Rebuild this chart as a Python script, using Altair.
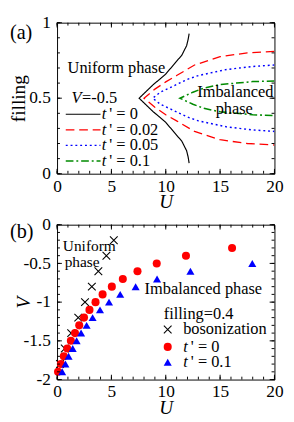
import altair as alt
import pandas as pd

FONT = "Liberation Serif"

# ---------------- Panel (a): phase boundaries, V = -0.5 ----------------
series_a = ["t0", "t002", "t005", "t01"]
colors_a = ["#000000", "#ff0000", "#0000ff", "#008a00"]
dashes_a = [[1, 0], [9, 5], [2, 3], [8, 3, 2, 3]]
labels_a = ["' = 0", "' = 0.02", "' = 0.05", "' = 0.1"]
legend_f = [0.394, 0.29, 0.1875, 0.084]

# each boundary listed from the nose outward: U, upper filling, lower filling
U_t0 = [7.55, 8.82, 9.4, 10.0, 10.74, 11.48, 11.92, 12.06, 12.15]
fu_t0 = [0.5, 0.588, 0.623, 0.66, 0.723, 0.785, 0.848, 0.89, 0.927]
fl_t0 = [0.5, 0.412, 0.377, 0.34, 0.277, 0.215, 0.152, 0.11, 0.07]

U_t002 = [8.0, 9.0, 10.0, 11.0, 12.65, 15.0, 17.5, 20.0]
fu_t002 = [0.5, 0.56, 0.608, 0.65, 0.72, 0.775, 0.80, 0.81]
fl_t002 = [0.5, 0.44, 0.39, 0.35, 0.28, 0.225, 0.20, 0.19]

U_t005 = [8.8, 9.5, 10.6, 12.0, 13.0, 15.6, 18.0, 20.0]
fu_t005 = [0.5, 0.54, 0.577, 0.625, 0.65, 0.69, 0.71, 0.72]
fl_t005 = [0.5, 0.46, 0.423, 0.375, 0.35, 0.31, 0.29, 0.28]

U_t01 = [11.3, 12.5, 13.5, 15.0, 16.5, 18.0, 20.0]
fu_t01 = [0.5, 0.54, 0.567, 0.59, 0.60, 0.61, 0.614]
fl_t01 = [0.5, 0.46, 0.433, 0.41, 0.40, 0.39, 0.385]

# ---------------- Panel (b): critical V at filling = 0.4 ----------------
U_boson = [5.22, 4.54, 3.8, 3.2, 2.57, 1.95, 1.3, 0.71, 0.27]
V_boson = [-0.2, -0.4, -0.6, -0.8, -1.0, -1.2, -1.4, -1.6, -1.8]

U_b0 = [16.1, 11.86, 9.17, 7.4, 6.05, 5.04, 4.19, 3.54, 2.98, 2.48, 2.04,
        1.65, 1.27, 0.94, 0.62, 0.35, 0.09]
V_b0 = [-0.3, -0.4, -0.5, -0.6, -0.7, -0.8, -0.9, -1.0, -1.1, -1.2, -1.3,
        -1.4, -1.5, -1.6, -1.7, -1.8, -1.9]

U_b01 = [17.96, 12.27, 9.2, 7.23, 5.81, 4.78, 3.95, 3.27, 2.72, 2.21, 1.8,
         1.44, 1.06, 0.77, 0.47]
V_b01 = [-0.5, -0.6, -0.7, -0.8, -0.9, -1.0, -1.1, -1.2, -1.3, -1.4, -1.5,
         -1.6, -1.7, -1.8, -1.9]

legend_b = ["bosonization", "' = 0", "' = 0.1"]
legend_b_V = [-1.354, -1.578, -1.776]

# tick values
x_major = [0, 5, 10, 15, 20]
x_minor = list(range(0, 21))
ya_major = [0, 0.5, 1]
ya_minor = [i / 10 for i in range(0, 11)]
yb_major = [0, -0.5, -1, -1.5, -2]
yb_minor = [-i / 10 for i in range(0, 21)]

# ---------------- sizes ----------------
W = 226
HA = 157
HB = 161
MAJ = 5
MIN = 3

xs = alt.Scale(domain=[0, 20], nice=False, zero=False)
ysa = alt.Scale(domain=[0, 1], nice=False, zero=False)
ysb = alt.Scale(domain=[-2, 0], nice=False, zero=False)

axis_common = dict(domain=False, ticks=False, grid=False, labelFont=FONT,
                   labelFontSize=18, labelColor="black", labelFlush=False,
                   labelOverlap=False, titleFont=FONT, titleFontSize=20,
                   titleFontWeight="normal", titleColor="black")


def x_axis():
    return alt.Axis(values=x_major, labelPadding=4, title="U",
                    titleFontStyle="italic", titleBaseline="middle",
                    titleAlign="center", titleX=W / 2, titleY=29,
                    **axis_common)


AXA_X = x_axis()
AXB_X = x_axis()
AXA_Y = alt.Axis(values=ya_major, labelPadding=7, title="filling",
                 titleAngle=270, titleBaseline="middle", titleAlign="center",
                 titleX=-40, titleY=HA / 2, format="~g", **axis_common)
AXB_Y = alt.Axis(values=yb_major, labelPadding=7, title="V",
                 titleFontStyle="italic", titleAngle=270, titleBaseline="middle",
                 titleAlign="center", titleX=-35, titleY=HB / 2,
                 labelExpr="replace(format(datum.value, '~g'), '\u2212', '-')",
                 **axis_common)


def ticks(vals, H, orient, length, ysc, axx, axy):
    df = pd.DataFrame({"t": vals})
    base = alt.Chart(df).mark_rule(color="black", strokeWidth=1)
    if orient == "x":
        enc = alt.X("t:Q", scale=xs, axis=axx)
        return [base.encode(x=enc, y=alt.value(H), y2=alt.value(H - length)),
                base.encode(x=enc, y=alt.value(0), y2=alt.value(length))]
    enc = alt.Y("t:Q", scale=ysc, axis=axy)
    return [base.encode(y=enc, x=alt.value(0), x2=alt.value(length)),
            base.encode(y=enc, x=alt.value(W), x2=alt.value(W - length))]


def txt(text, x, y, ys, axx, axy, size=17, style="normal", align="left", dx=0):
    return alt.Chart(pd.DataFrame({"k": [0]})).mark_text(
        text=text, font=FONT, fontSize=size, fontStyle=style, align=align,
        baseline="middle", dx=dx, color="black").encode(
        x=alt.XDatum(x, scale=xs, axis=axx), y=alt.YDatum(y, scale=ys, axis=axy))


# ---------------- build panel (a) ----------------
rows = []
curves = [(U_t0, fu_t0, fl_t0), (U_t002, fu_t002, fl_t002),
          (U_t005, fu_t005, fl_t005), (U_t01, fu_t01, fl_t01)]
for s, (U, fu, fl) in zip(series_a, curves):
    pts = list(zip(U, fu))[::-1] + list(zip(U, fl))[1:]
    for i, (u, f) in enumerate(pts):
        rows.append({"series": s, "U": u, "filling": f, "idx": i})
df_a = pd.DataFrame(rows)

color_a = alt.Color("series:N", scale=alt.Scale(domain=series_a, range=colors_a), legend=None)
dash_a = alt.StrokeDash("series:N", scale=alt.Scale(domain=series_a, range=dashes_a), legend=None)
width_a = alt.StrokeWidth("series:N", scale=alt.Scale(domain=series_a, range=[1.2, 1.6, 1.8, 1.6]), legend=None)

lines_a = alt.Chart(df_a).mark_line(clip=True).encode(
    x=alt.X("U:Q", scale=xs, axis=AXA_X),
    y=alt.Y("filling:Q", scale=ysa, axis=AXA_Y),
    color=color_a, strokeDash=dash_a, strokeWidth=width_a, order="idx:Q")

df_leg_a = pd.DataFrame({"series": series_a, "ly": legend_f, "lab": labels_a})
leg_lines = alt.Chart(df_leg_a).mark_rule().encode(
    x=alt.XDatum(0.8, scale=xs, axis=AXA_X), x2=alt.X2Datum(4.0),
    y=alt.Y("ly:Q", scale=ysa, axis=AXA_Y),
    color=color_a, strokeDash=dash_a, strokeWidth=width_a)
leg_t = alt.Chart(df_leg_a).mark_text(
    text="t", font=FONT, fontSize=17, fontStyle="italic", align="left",
    baseline="middle", color="black").encode(
    x=alt.XDatum(4.1, scale=xs, axis=AXA_X), y=alt.Y("ly:Q", scale=ysa, axis=AXA_Y))
leg_lab = alt.Chart(df_leg_a).mark_text(
    font=FONT, fontSize=17, align="left", baseline="middle", dx=8,
    color="black").encode(
    x=alt.XDatum(4.1, scale=xs, axis=AXA_X), y=alt.Y("ly:Q", scale=ysa, axis=AXA_Y),
    text="lab:N")

layers_a = [lines_a, leg_lines, leg_t, leg_lab]
layers_a += ticks(x_major, HA, "x", MAJ, ysa, AXA_X, AXA_Y)
layers_a += ticks(x_minor, HA, "x", MIN, ysa, AXA_X, AXA_Y)
layers_a += ticks(ya_major, HA, "y", MAJ, ysa, AXA_X, AXA_Y)
layers_a += ticks(ya_minor, HA, "y", MIN, ysa, AXA_X, AXA_Y)


def ta(*a, **k):
    return txt(*a[:3], ysa, AXA_X, AXA_Y, **k)


layers_a += [
    ta("(a)", 0, 0.93, size=21).encode(x=alt.value(-49)),
    ta("Uniform phase", 0.97, 0.70),
    ta("V", 1.33, 0.50, style="italic"),
    ta("=-0.5", 1.33, 0.50, dx=11),
    ta("Imbalanced", 12.9, 0.5375),
    ta("phase", 16.3, 0.43, align="center"),
]
panel_a = alt.layer(*layers_a).properties(width=W, height=HA)

# ---------------- build panel (b) ----------------
df_boson = pd.DataFrame({"U": U_boson, "V": V_boson})
df_b0 = pd.DataFrame({"U": U_b0, "V": V_b0})
df_b01 = pd.DataFrame({"U": U_b01, "V": V_b01})
CROSS = "M -1 -1 L 1 1 M -1 1 L 1 -1"

XB = alt.X("U:Q", scale=xs, axis=AXB_X)
YB = alt.Y("V:Q", scale=ysb, axis=AXB_Y)

boson = alt.Chart(df_boson).mark_point(
    shape=CROSS, filled=False, color="black", opacity=1, strokeWidth=1.1,
    size=64, clip=False).encode(x=XB, y=YB)
circ = alt.Chart(df_b0).mark_point(
    shape="circle", filled=True, color="#ff0000", opacity=1, size=70,
    clip=False).encode(x=XB, y=YB)
tri = alt.Chart(df_b01).mark_point(
    shape="triangle-up", filled=True, color="#0000ff", opacity=1, size=70,
    clip=False).encode(x=XB, y=YB)


def tb(*a, **k):
    return txt(*a[:3], ysb, AXB_X, AXB_Y, **k)


def pt(V, **style):
    return alt.Chart(pd.DataFrame({"k": [0]})).mark_point(**style).encode(
        x=alt.XDatum(10.18, scale=xs, axis=AXB_X),
        y=alt.YDatum(V, scale=ysb, axis=AXB_Y))


leg_b = [
    pt(legend_b_V[0], shape=CROSS, filled=False, color="black", opacity=1,
       strokeWidth=1.1, size=64),
    pt(legend_b_V[1], shape="circle", filled=True, color="#ff0000", opacity=1, size=70),
    pt(legend_b_V[2], shape="triangle-up", filled=True, color="#0000ff", opacity=1, size=70),
    tb(legend_b[0], 11.6, legend_b_V[0]),
    tb("t", 11.6, legend_b_V[1], style="italic"),
    tb(legend_b[1], 11.6, legend_b_V[1], dx=8),
    tb("t", 11.6, legend_b_V[2], style="italic"),
    tb(legend_b[2], 11.6, legend_b_V[2], dx=8),
]

layers_b = [boson, circ, tri]
layers_b += ticks(x_major, HB, "x", MAJ, ysb, AXB_X, AXB_Y)
layers_b += ticks(x_minor, HB, "x", MIN, ysb, AXB_X, AXB_Y)
layers_b += ticks(yb_major, HB, "y", MAJ, ysb, AXB_X, AXB_Y)
layers_b += ticks(yb_minor, HB, "y", MIN, ysb, AXB_X, AXB_Y)
layers_b += leg_b
layers_b += [
    tb("(b)", 0, -0.1, size=21).encode(x=alt.value(-49)),
    tb("Uniform", 0.53, -0.28, size=16),
    tb("phase", 0.7, -0.49, size=16),
    tb("Imbalanced phase", 8.05, -0.83),
    tb("filling=0.4", 9.82, -1.155),
]
panel_b = alt.layer(*layers_b).properties(width=W, height=HB)

chart = alt.vconcat(panel_a, panel_b, spacing=53, bounds="flush").properties(
    padding={"left": 0, "top": -3, "right": 2, "bottom": 0}
).configure_view(stroke="black", strokeWidth=1
).configure_text(font=FONT, color="black"
).configure_mark(font=FONT)

chart.save("out.html", embed_options={"renderer": "svg", "actions": False})
